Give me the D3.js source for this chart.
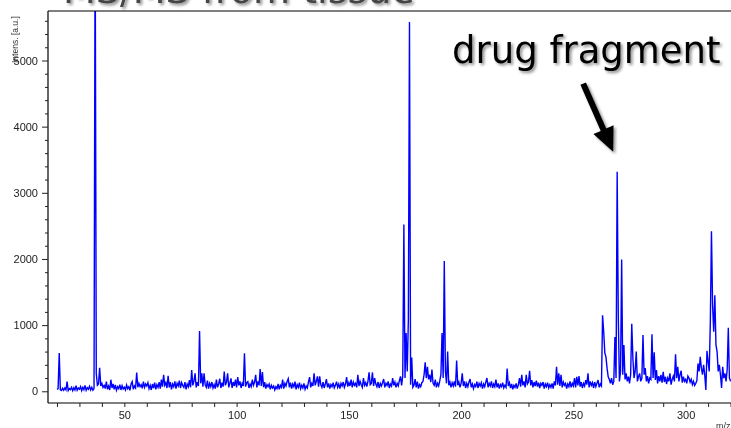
<!DOCTYPE html>
<html>
<head>
<meta charset="utf-8">
<script src="https://cdn.jsdelivr.net/npm/d3@7"></script>
<style>
  html, body { margin: 0; padding: 0; background: #fff; }
  svg { display: block; }
</style>
</head>
<body>
<svg id="chart" width="731" height="428"></svg>
<script>
// ---- Data: intensity sampled every 0.5 m/z, one array per 50 m/z block ----
const mzStep = 0.5;
const block020 = [ // m/z 20.0 - 69.5
  30,40,580,20,10,45,15,50,20,145,10,40,25,60,10,55,20,85,15,50,
  30,70,10,60,25,90,15,55,30,75,20,60,15,40,7000,270,90,110,355,80,
  120,60,90,40,145,30,80,20,175,50,110,30,95,15,70,40,100,20,85,35,
  60,20,95,40,70,15,110,145,30,80,50,285,60,120,70,100,45,145,60,110,
  80,130,40,90,20,110,50,130,30,100,60,140,40,175,70,250,90,130,50,235
];
const block070 = [ // m/z 70.0 - 119.5
  60,140,30,110,70,150,40,120,80,160,50,130,90,60,140,30,110,70,170,60,
  320,90,150,270,60,140,80,910,120,270,70,270,100,60,160,40,120,70,140,50,
  100,40,175,60,110,190,50,130,70,300,90,140,270,60,120,195,50,140,80,175,
  60,215,90,150,50,120,80,575,70,130,145,50,110,70,175,90,140,250,60,150,
  90,335,80,290,60,140,40,100,70,110,30,90,50,80,20,70,40,110,30,90
];
const block120 = [ // m/z 120.0 - 169.5
  60,175,40,120,80,150,190,60,130,40,110,70,145,30,100,60,130,40,90,50,
  120,30,80,50,140,215,60,120,80,270,90,150,225,70,225,100,60,140,50,110,
  185,60,120,40,100,70,130,50,90,145,60,110,40,120,80,140,60,110,215,70,
  130,80,175,60,140,90,120,60,250,80,150,100,60,200,90,130,70,150,285,100,
  120,285,80,200,110,70,140,50,120,80,130,185,60,120,90,150,50,110,80,200
];
const block170 = [ // m/z 170.0 - 219.5
  90,140,60,120,80,160,225,90,230,2520,200,880,300,1090,5580,100,510,60,90,185,
  60,145,40,100,70,130,150,250,437,200,370,180,250,140,330,120,90,175,60,120,
  80,160,250,880,200,1970,300,120,600,90,140,60,130,80,150,70,465,90,140,60,
  120,270,80,150,50,120,70,140,185,60,110,40,100,70,145,50,120,80,130,40,
  110,70,140,200,60,120,80,150,50,110,70,175,60,120,40,100,70,130,50,90
];
const block220 = [ // m/z 220.0 - 269.5
  60,345,80,130,50,110,30,90,60,120,40,100,200,70,250,90,150,60,250,110,
  140,310,90,170,60,140,80,160,70,130,50,120,90,140,40,110,70,130,50,100,
  60,120,40,150,90,370,100,270,80,250,60,140,90,120,40,110,70,150,60,120,
  80,200,60,220,90,230,70,140,50,120,80,170,100,270,60,150,90,130,50,140,
  70,120,170,60,110,80,1150,900,580,520,350,220,180,120,200,100,150,820,200,3320
];
const block270 = [ // m/z 270.0 - 320.0
  1120,150,300,1990,250,700,180,270,150,220,120,250,1020,500,200,300,600,150,220,270,
  150,200,850,250,350,150,230,120,200,180,860,200,590,170,320,120,230,150,250,130,
  295,140,220,110,200,150,270,100,180,230,150,560,200,370,150,250,310,130,220,150,
  180,120,230,200,140,180,100,150,90,120,160,420,300,520,350,250,400,250,20,610,
  450,300,1060,2420,1300,900,1450,700,600,300,400,250,50,370,200,270,150,330,960,200,
  150
];
const blockStarts = [20, 70, 120, 170, 220, 270];
const blocks = [block020, block070, block120, block170, block220, block270];

// axis ticks
const xTickValues = d3.range(20, 321, 10);
const xLabelEvery = 50;
const yTickValues = d3.range(0, 5601, 200);
const yLabelEvery = 1000;

// text
const titleText = "MS/MS from tissue";
const annotationText = "drug fragment";
const annotationPeak = { mz: 269.5, intensity: 3320 };
const yTitle = "Intens. [a.u.]";
const xTitle = "m/z";

// ---- build spectrum ----
const spectrum = [];
blocks.forEach((b, bi) => b.forEach((v, i) => spectrum.push({ mz: blockStarts[bi] + i * mzStep, v })));

const W = 731, H = 428;
const plot = { left: 48, right: 731, top: 11, bottom: 403 };

const x = d3.scaleLinear().domain([16, 320.2]).range([plot.left, plot.right]);
const y = d3.scaleLinear().domain([-177, 5748]).range([plot.bottom, plot.top]);

const svg = d3.select("#chart");
svg.append("rect").attr("width", W).attr("height", H).attr("fill", "#fff");

const defs = svg.append("defs");
defs.append("clipPath").attr("id", "clip")
  .append("rect").attr("x", plot.left).attr("y", plot.top)
  .attr("width", plot.right - plot.left).attr("height", plot.bottom - plot.top);
const shadow = defs.append("filter").attr("id", "shadow")
  .attr("x", "-10%").attr("y", "-20%").attr("width", "130%").attr("height", "160%");
shadow.append("feDropShadow").attr("dx", 2).attr("dy", 2).attr("stdDeviation", 1.5)
  .attr("flood-color", "#000").attr("flood-opacity", 0.45);
const gray = defs.append("filter").attr("id", "gray");
gray.append("feColorMatrix").attr("type", "identity");

// title (cut off at top)
svg.append("text")
  .attr("x", 63).attr("y", 3)
  .attr("font-family", "DejaVu Sans, Verdana, sans-serif")
  .attr("font-size", 38)
  .attr("fill", "#444")
  .attr("filter", "url(#shadow)")
  .text(titleText);

// spectrum line
const line = d3.line().x(d => x(d.mz)).y(d => y(d.v));
svg.append("path")
  .datum(spectrum)
  .attr("clip-path", "url(#clip)")
  .attr("d", line)
  .attr("fill", "none")
  .attr("stroke", "#0000ff")
  .attr("stroke-width", 1.4)
  .attr("stroke-linejoin", "miter");

// frame lines
svg.append("line").attr("x1", plot.left).attr("x2", plot.right).attr("y1", plot.top).attr("y2", plot.top)
  .attr("stroke", "#000").attr("stroke-width", 1.2);
svg.append("line").attr("x1", plot.left).attr("x2", plot.left).attr("y1", plot.top).attr("y2", plot.bottom)
  .attr("stroke", "#000").attr("stroke-width", 1.2);
svg.append("line").attr("x1", plot.left).attr("x2", plot.right).attr("y1", plot.bottom).attr("y2", plot.bottom)
  .attr("stroke", "#000").attr("stroke-width", 1.2);

// x axis
const xAxis = svg.append("g").attr("transform", `translate(0,${plot.bottom})`)
  .attr("filter", "url(#gray)")
  .call(d3.axisBottom(x).tickValues(xTickValues).tickSize(4).tickPadding(4)
    .tickFormat(d => d % xLabelEvery === 0 ? d : ""));
xAxis.select(".domain").remove();
xAxis.selectAll("line").attr("stroke", "#222");
xAxis.selectAll("text").attr("font-family", "Liberation Sans, Arial, sans-serif")
  .attr("font-size", 11).attr("fill", "#222");

// y axis
const yAxis = svg.append("g").attr("transform", `translate(${plot.left},0)`)
  .attr("filter", "url(#gray)")
  .call(d3.axisLeft(y).tickValues(yTickValues).tickSize(3).tickPadding(7)
    .tickFormat(d => d % yLabelEvery === 0 ? d : ""));
yAxis.select(".domain").remove();
yAxis.selectAll(".tick line").attr("stroke", "#222")
  .attr("x2", d => d % yLabelEvery === 0 ? -6 : -3);
yAxis.selectAll("text").attr("font-family", "Liberation Sans, Arial, sans-serif")
  .attr("font-size", 11).attr("fill", "#222");

// axis titles
const titles = svg.append("g").attr("filter", "url(#gray)");
titles.append("text")
  .attr("transform", "translate(18,63) rotate(-90)")
  .attr("font-family", "Liberation Sans, Arial, sans-serif")
  .attr("font-size", 8.5).attr("fill", "#333")
  .text(yTitle);
titles.append("text")
  .attr("x", 716).attr("y", 429)
  .attr("font-family", "Liberation Sans, Arial, sans-serif")
  .attr("font-size", 9).attr("fill", "#333")
  .text(xTitle);

// annotation
const tipX = x(annotationPeak.mz) - 4, tipY = y(annotationPeak.intensity) - 20;
const startX = tipX - 30, startY = tipY - 68;
const ang = Math.atan2(tipY - startY, tipX - startX);
const headLen = 24, headHalf = 11, shaft = 3;
const ux = Math.cos(ang), uy = Math.sin(ang), px = -uy, py = ux;
const bx = tipX - ux * headLen, by = tipY - uy * headLen;
const arrowPts = [
  [startX + px * shaft, startY + py * shaft],
  [bx + px * shaft, by + py * shaft],
  [bx + px * headHalf, by + py * headHalf],
  [tipX, tipY],
  [bx - px * headHalf, by - py * headHalf],
  [bx - px * shaft, by - py * shaft],
  [startX - px * shaft, startY - py * shaft]
];
svg.append("path")
  .attr("d", "M" + arrowPts.map(p => p.join(",")).join("L") + "Z")
  .attr("fill", "#000")
  .attr("filter", "url(#shadow)");

svg.append("text")
  .attr("x", 452).attr("y", 63)
  .attr("font-family", "DejaVu Sans, Verdana, sans-serif")
  .attr("font-size", 37)
  .attr("fill", "#000")
  .attr("filter", "url(#shadow)")
  .text(annotationText);
</script>
</body>
</html>
